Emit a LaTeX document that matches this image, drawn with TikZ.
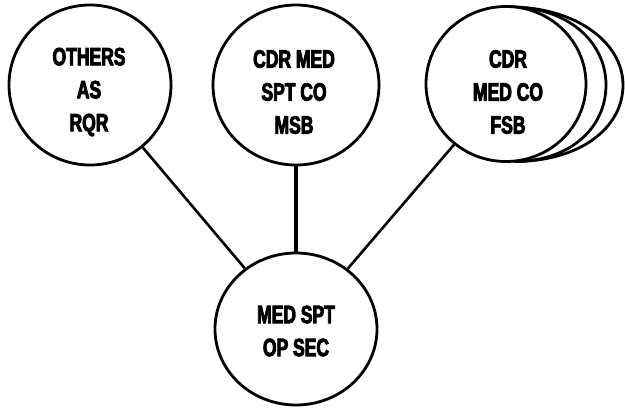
\documentclass[tikz,border=0pt]{standalone}
\usepackage{fontspec}
\setmainfont{Liberation Sans}
\newfontfamily\lblfont[FakeStretch=0.7, FakeBold=3.5]{Liberation Sans Bold}
\usetikzlibrary{shapes.geometric}
\tikzset{
  unit/.style={ellipse, draw, line width=2.8pt, fill=white, inner sep=0pt,
    minimum width=#1},
  unit/.default=162pt,
  lbl/.style={align=center, inner sep=0pt,
    font=\lblfont\fontsize{25}{33}\selectfont},
  conn/.style={line width=2.6pt},
  rim/.style={line width=2.8pt},
}
\begin{document}
\begin{tikzpicture}[x=1pt,y=-1pt]
  \useasboundingbox (0,0) rectangle (625,415);

  % stacked companies behind the forward support battalion unit
  \fill[white] (510,7) .. controls (575,7) and (623,42) .. (623,85)
    .. controls (623,128) and (580,161.5) .. (514,161.5) -- (480,85) -- cycle;
  \draw[rim] (510,7) .. controls (575,7) and (623,42) .. (623,85)
    .. controls (623,128) and (580,161.5) .. (514,161.5);
  \fill[white] (510,7) .. controls (568,7) and (606,42) .. (606,85)
    .. controls (606,128) and (570,161.5) .. (514,161.5) -- (480,85) -- cycle;
  \draw[rim] (510,7) .. controls (568,7) and (606,42) .. (606,85)
    .. controls (606,128) and (570,161.5) .. (514,161.5);

  % upper row of elements
  \node[unit, minimum height=160pt] (others) at (90,85) {};
  \node[unit=166pt, minimum height=160pt] (msb) at (296,85) {};
  \node[unit=160pt, minimum height=155pt] (fsb) at (506,84) {};

  % medical support operations section
  \node[unit, minimum height=152pt] (opsec) at (296,329) {};

  \node[lbl] at ([xshift=-1pt,yshift=-7pt]others.center) {OTHERS\\AS\\RQR};
  \node[lbl] at ([xshift=-2pt,yshift=-7pt]msb.center) {CDR MED\\SPT CO\\MSB};
  \node[lbl] at ([xshift=2pt,yshift=-8pt]fsb.center) {CDR\\MED CO\\FSB};
  \node[lbl] at ([yshift=-2pt]opsec.center) {MED SPT\\OP SEC};

  % links to the operations section
  \draw[conn] (others) -- (opsec);
  \draw[conn, line width=3.4pt] (msb) -- (opsec);
  \draw[conn] (fsb) -- (opsec);
\end{tikzpicture}
\end{document}
